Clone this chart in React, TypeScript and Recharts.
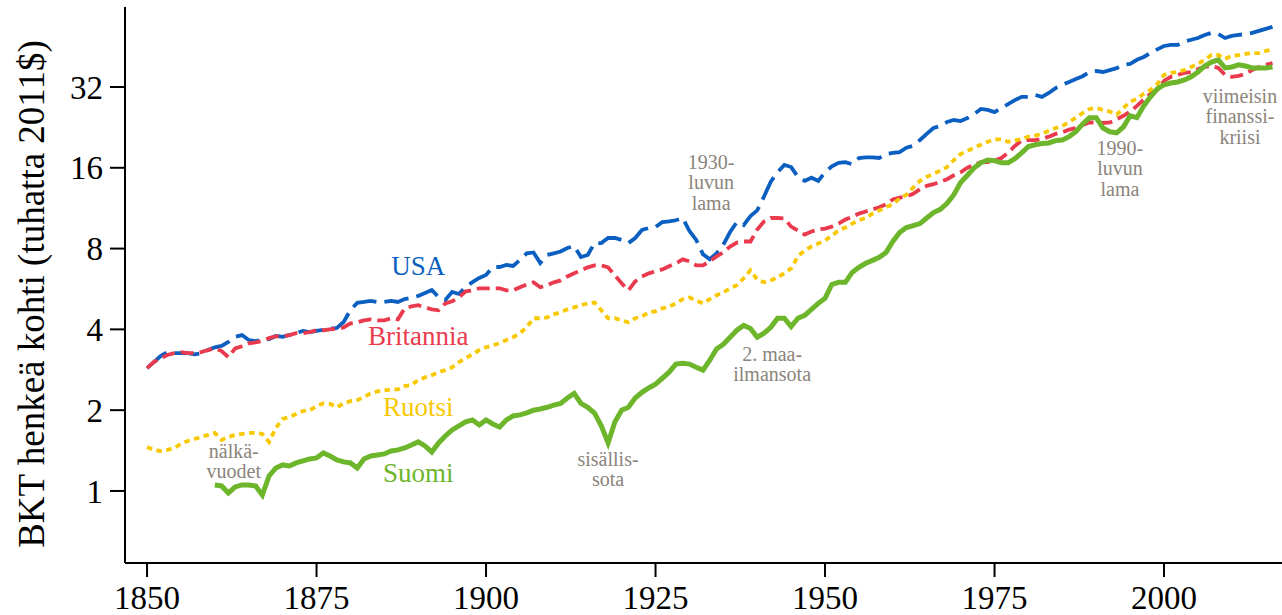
import React from 'react';
import { LineChart, Line, XAxis, YAxis, ReferenceDot } from 'recharts';

const FIRST_YEAR = 1850;
const LAST_YEAR = 2016;
const SUOMI_FIRST_YEAR = 1860;

const years: number[] = Array.from({ length: LAST_YEAR - FIRST_YEAR + 1 }, (_, i) => FIRST_YEAR + i);

// BKT henkeä kohti, tuhatta 2011$
const usa = [
  2.87, 3.02, 3.18, 3.29, 3.26, 3.26, 3.26, 3.23, 3.26, 3.35,
  3.43, 3.47, 3.59, 3.75, 3.81, 3.65, 3.62, 3.65, 3.68, 3.78,
  3.75, 3.81, 3.88, 3.95, 3.91, 3.95, 3.98, 4.02, 4.05, 4.26,
  4.72, 5.02, 5.06, 5.11, 5.06, 5.06, 5.11, 5.06, 5.19, 5.24,
  5.33, 5.47, 5.61, 5.28, 5.15, 5.52, 5.42, 5.75, 6.0, 6.22,
  6.38, 6.83, 6.83, 6.95, 6.89, 7.26, 7.68, 7.74, 7.07, 7.57,
  7.68, 7.8, 8.04, 8.18, 7.44, 7.57, 8.39, 8.39, 8.76, 8.76,
  8.62, 8.39, 8.76, 9.38, 9.54, 9.62, 10.05, 10.1, 10.2, 10.4,
  9.3, 8.62, 7.62, 7.3, 7.68, 8.27, 9.22, 10.05, 9.79, 10.58,
  11.1, 12.5, 14.2, 15.4, 16.4, 16.1, 14.8, 14.3, 14.7, 14.3,
  15.4, 16.2, 16.7, 16.8, 16.5, 17.4, 17.5, 17.5, 17.4, 18.0,
  18.2, 18.3, 19.0, 19.3, 20.3, 21.4, 22.5, 22.9, 23.7, 24.1,
  23.9, 24.5, 25.4, 26.5, 26.3, 25.8, 26.7, 27.6, 28.6, 29.4,
  29.4, 29.9, 29.4, 30.4, 31.7, 32.6, 33.4, 34.3, 35.1, 36.4,
  36.7, 36.4, 37.0, 37.6, 38.7, 39.0, 40.4, 41.4, 42.8, 44.2,
  45.5, 45.9, 45.9, 47.2, 48.0, 48.7, 50.0, 50.9, 50.4, 48.7,
  49.6, 50.0, 50.4, 50.9, 51.8, 52.7, 53.6,
];

const britannia = [
  2.87, 3.02, 3.12, 3.21, 3.26, 3.29, 3.26, 3.26, 3.29, 3.35,
  3.4, 3.32, 3.15, 3.4, 3.46, 3.55, 3.58, 3.62, 3.71, 3.77,
  3.77, 3.81, 3.87, 3.87, 3.91, 3.97, 3.97, 4.0, 4.03, 4.07,
  4.21, 4.25, 4.32, 4.36, 4.32, 4.32, 4.4, 4.36, 4.79, 4.87,
  4.92, 4.83, 4.75, 4.71, 5.0, 5.09, 5.26, 5.54, 5.59, 5.69,
  5.69, 5.69, 5.69, 5.59, 5.59, 5.74, 5.88, 5.99, 5.74, 5.84,
  5.99, 6.09, 6.3, 6.47, 6.64, 6.81, 6.93, 6.93, 6.81, 6.36,
  5.94, 5.59, 6.04, 6.3, 6.47, 6.58, 6.69, 6.87, 7.05, 7.29,
  7.17, 6.93, 6.93, 7.17, 7.48, 7.74, 8.14, 8.42, 8.5, 8.5,
  9.42, 10.1, 10.4, 10.4, 10.35, 9.66, 9.34, 9.02, 9.26, 9.42,
  9.5, 9.66, 9.91, 10.26, 10.5, 10.8, 11.0, 11.2, 11.4, 11.7,
  12.2, 12.4, 12.5, 12.8, 13.3, 13.7, 13.9, 14.2, 14.5, 15.0,
  15.4, 16.0, 16.4, 16.8, 16.8, 17.0, 17.4, 18.2, 19.3, 20.2,
  20.3, 20.3, 20.5, 20.9, 21.4, 21.7, 22.2, 22.5, 23.1, 23.6,
  23.6, 23.5, 23.6, 24.2, 25.0, 25.9, 27.2, 28.7, 30.2, 31.2,
  33.7, 34.9, 35.5, 36.1, 36.4, 37.3, 38.0, 38.3, 37.7, 35.5,
  34.9, 35.2, 35.8, 37.0, 38.0, 38.7, 39.3,
];

const ruotsi = [
  1.459, 1.422, 1.409, 1.422, 1.446, 1.497, 1.536, 1.562, 1.589, 1.617,
  1.645, 1.549, 1.589, 1.617, 1.631, 1.645, 1.645, 1.631, 1.523, 1.717,
  1.855, 1.887, 1.936, 1.986, 2.0, 2.07, 2.12, 2.11, 2.05, 2.12,
  2.16, 2.18, 2.24, 2.31, 2.35, 2.37, 2.39, 2.39, 2.46, 2.48,
  2.59, 2.65, 2.7, 2.77, 2.82, 2.89, 3.02, 3.12, 3.23, 3.35,
  3.43, 3.49, 3.55, 3.65, 3.74, 3.87, 4.07, 4.4, 4.4, 4.43,
  4.55, 4.63, 4.75, 4.83, 4.92, 5.0, 5.04, 4.71, 4.4, 4.4,
  4.32, 4.25, 4.4, 4.47, 4.63, 4.67, 4.79, 4.87, 5.0, 5.18,
  5.26, 5.13, 5.0, 5.18, 5.36, 5.49, 5.69, 5.84, 6.2, 6.64,
  6.14, 5.99, 6.09, 6.25, 6.47, 6.75, 7.48, 7.88, 8.14, 8.35,
  8.57, 8.94, 9.34, 9.58, 9.91, 10.2, 10.4, 10.8, 11.1, 11.4,
  11.7, 12.3, 12.7, 13.5, 14.3, 14.8, 15.2, 15.6, 16.1, 17.1,
  18.0, 18.5, 19.0, 19.5, 20.0, 20.4, 20.4, 20.0, 20.2, 20.5,
  20.9, 21.1, 21.4, 22.0, 22.5, 22.9, 23.7, 24.6, 25.6, 26.5,
  26.7, 26.3, 25.9, 25.2, 26.7, 28.2, 28.9, 30.2, 31.2, 32.8,
  35.5, 36.1, 36.4, 37.0, 38.0, 39.0, 40.4, 42.1, 42.1, 40.7,
  41.8, 42.1, 42.5, 42.8, 42.8, 43.6, 44.2,
];

// starts 1860
const suomi = [
  1.053, 1.044, 0.983, 1.035, 1.053, 1.053, 1.044, 0.966, 1.137, 1.218,
  1.25, 1.239, 1.272, 1.294, 1.316, 1.327, 1.386, 1.35, 1.305, 1.283,
  1.272, 1.218, 1.316, 1.35, 1.362, 1.374, 1.409, 1.422, 1.446, 1.484,
  1.523, 1.471, 1.397, 1.51, 1.603, 1.688, 1.747, 1.808, 1.839, 1.762,
  1.839, 1.777, 1.732, 1.839, 1.903, 1.92, 1.953, 2.0, 2.02, 2.05,
  2.09, 2.12, 2.22, 2.31, 2.12, 2.05, 1.95, 1.75, 1.51, 1.808,
  2.0, 2.05, 2.22, 2.33, 2.42, 2.5, 2.63, 2.77, 2.97, 2.99,
  2.97, 2.89, 2.82, 3.07, 3.38, 3.52, 3.74, 3.97, 4.14, 4.03,
  3.74, 3.87, 4.07, 4.4, 4.4, 4.1, 4.4, 4.51, 4.75, 5.0,
  5.22, 5.88, 5.99, 5.99, 6.52, 6.81, 7.05, 7.23, 7.42, 7.74,
  8.5, 9.18, 9.58, 9.74, 9.91, 10.4, 10.9, 11.2, 11.8, 12.7,
  14.1, 15.0, 16.0, 16.7, 17.1, 17.0, 16.7, 16.7, 17.3, 18.2,
  19.2, 19.5, 19.7, 19.8, 20.2, 20.3, 20.9, 21.8, 23.3, 24.6,
  24.6, 22.5, 21.8, 21.6, 22.7, 25.0, 24.6, 27.2, 29.4, 31.5,
  32.6, 33.1, 33.4, 34.0, 34.9, 36.4, 38.3, 39.6, 40.4, 37.7,
  38.0, 38.7, 38.3, 37.7, 37.7, 37.7, 38.0,
];

const xTicks = [1850, 1875, 1900, 1925, 1950, 1975, 2000];
const yTicks = [1, 2, 4, 8, 16, 32];

const seriesLabels = [
  { text: 'USA', year: 1890, value: 6.38, color: '#0b5fc0' },
  { text: 'Britannia', year: 1890, value: 3.5, color: '#ea3a4e' },
  { text: 'Ruotsi', year: 1890, value: 1.9, color: '#f8c800' },
  { text: 'Suomi', year: 1890, value: 1.08, color: '#6db52b' },
];

const annotations = [
  { lines: ['nälkä-', 'vuodet'], year: 1862.8, value: 1.327 },
  { lines: ['sisällis-', 'sota'], year: 1918.0, value: 1.239 },
  { lines: ['2. maa-', 'ilmansota'], year: 1942.2, value: 3.05 },
  { lines: ['1930-', 'luvun', 'lama'], year: 1933.2, value: 15.84 },
  { lines: ['1990-', 'luvun', 'lama'], year: 1993.5, value: 17.86 },
  { lines: ['viimeisin', 'finanssi-', 'kriisi'], year: 2011.2, value: 27.9 },
];

const rows = years.map((year, i) => ({
  year,
  usa: usa[i],
  britannia: britannia[i],
  ruotsi: ruotsi[i],
  suomi: year >= SUOMI_FIRST_YEAR ? suomi[year - SUOMI_FIRST_YEAR] : null,
}));

const FONT = "'Liberation Serif', 'Times New Roman', Times, serif";
const GREY = '#8b847b';

export default function App() {
  return (
    <div style={{ position: 'absolute', left: 0, top: 0, background: '#fff' }}>
      <LineChart
        width={1282}
        height={615}
        data={rows}
        margin={{ top: 7, right: 0, bottom: 0, left: 0 }}
      >
        <XAxis
          dataKey="year"
          type="number"
          domain={[1846.75, 2017.4]}
          allowDataOverflow
          ticks={xTicks}
          height={52}
          tickSize={14}
          tickMargin={9}
          axisLine={{ stroke: '#000', strokeWidth: 2 }}
          tickLine={{ stroke: '#000', strokeWidth: 2 }}
          tick={{ fill: '#000', fontSize: 33, fontFamily: FONT }}
        />
        <YAxis
          scale="log"
          domain={[0.539, 63.56]}
          allowDataOverflow
          ticks={yTicks}
          width={125}
          tickSize={15}
          tickMargin={7}
          axisLine={{ stroke: '#000', strokeWidth: 2 }}
          tickLine={{ stroke: '#000', strokeWidth: 2 }}
          tick={{ fill: '#000', fontSize: 33, fontFamily: FONT }}
          label={{
            content: (props: any) => {
              const vb = props.viewBox || { x: 0, y: 7, width: 125, height: 556 };
              const cx = vb.x + 44;
              const cy = vb.y + vb.height / 2 + 9;
              return (
                <text
                  x={cx}
                  y={cy}
                  transform={`rotate(-90 ${cx} ${cy})`}
                  textAnchor="middle"
                  fontSize={37}
                  fontFamily={FONT}
                  fill="#000"
                >
                  BKT henkeä kohti (tuhatta 2011$)
                </text>
              );
            },
          }}
        />
        <Line
          dataKey="usa"
          stroke="#0b5fc0"
          strokeWidth={3.8}
          strokeDasharray="25 8"
          dot={false}
          activeDot={false}
          isAnimationActive={false}
        />
        <Line
          dataKey="britannia"
          stroke="#ea3a4e"
          strokeWidth={3.8}
          strokeDasharray="13 6"
          dot={false}
          activeDot={false}
          isAnimationActive={false}
        />
        <Line
          dataKey="ruotsi"
          stroke="#f8c800"
          strokeWidth={3.8}
          strokeDasharray="5.5 4.5"
          dot={false}
          activeDot={false}
          isAnimationActive={false}
        />
        <Line
          dataKey="suomi"
          stroke="#6db52b"
          strokeWidth={5}
          dot={false}
          activeDot={false}
          connectNulls={false}
          isAnimationActive={false}
        />
        {seriesLabels.map((s) => (
          <ReferenceDot
            key={s.text}
            x={s.year}
            y={s.value}
            r={0}
            ifOverflow="visible"
            shape={(p: any) => (
              <text
                x={p.cx}
                y={p.cy}
                textAnchor="middle"
                fontSize={27}
                fontFamily={FONT}
                fill={s.color}
              >
                {s.text}
              </text>
            )}
          />
        ))}
        {annotations.map((a) => (
          <ReferenceDot
            key={a.lines.join('')}
            x={a.year}
            y={a.value}
            r={0}
            ifOverflow="visible"
            shape={(p: any) => (
              <text
                x={p.cx}
                y={p.cy}
                textAnchor="middle"
                fontSize={20}
                fontFamily={FONT}
                fill={GREY}
              >
                {a.lines.map((line, i) => (
                  <tspan key={i} x={p.cx} dy={i === 0 ? 0 : 20.5}>
                    {line}
                  </tspan>
                ))}
              </text>
            )}
          />
        ))}
      </LineChart>
    </div>
  );
}
